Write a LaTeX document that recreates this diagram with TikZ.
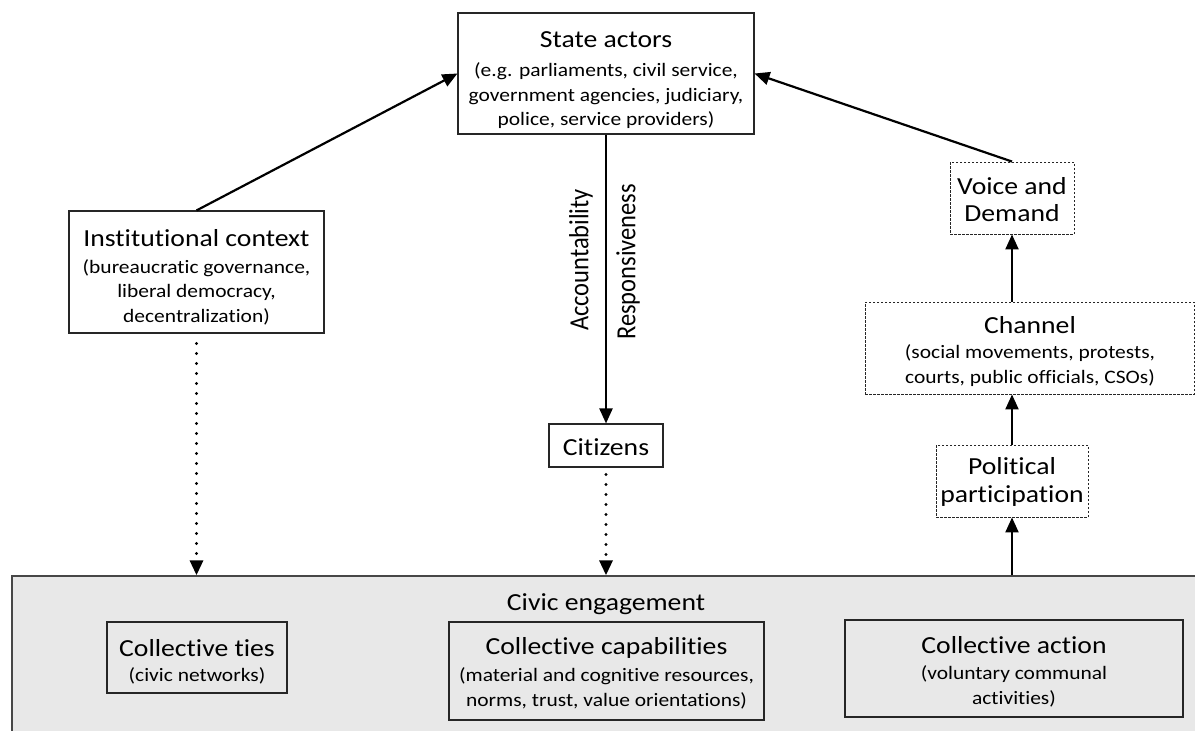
\documentclass[tikz,border=0pt]{standalone}
\usepackage{fontspec}
\setmainfont{Carlito}[FakeStretch=1.13, Ligatures=NoCommon]
\newfontfamily\plainfont{Carlito}[Ligatures=NoCommon]
\usetikzlibrary{arrows.meta}
\definecolor{civicgray}{HTML}{E8E8E8}
\definecolor{edge}{HTML}{262626}
\begin{document}
\begin{tikzpicture}[x=1pt,y=-1pt,
  box/.style={draw=edge, line width=1.1pt, inner sep=0pt},
  wbox/.style={box, fill=white},
  dbox/.style={draw=edge, line width=0.9pt, dash pattern=on 2.5pt off 1.5pt, fill=white, inner sep=0pt},
  arr/.style={line width=2.2pt, -{Triangle[length=15pt,width=13pt]}},
  darr/.style={line width=3.2pt, line cap=round, dash pattern=on 0pt off 10pt, -{Triangle[length=15pt,width=13pt]}},
  ttl/.style={font=\fontsize{24.5}{27.5}\selectfont, align=center, inner sep=0pt},
  sub/.style={font=\fontsize{19}{24.5}\selectfont, align=center, inner sep=0pt},
  lbl/.style={font=\plainfont\fontsize{24.5}{27}\selectfont, inner sep=0pt}]
\useasboundingbox (0,0) rectangle (1195,731);

% Civic engagement panel
\begin{scope}
  \clip (0,0) rectangle (1195,731);
  \node[box, draw=edge!85, line width=1.4pt, fill=civicgray, minimum width=1188pt, minimum height=164pt] (civic) at (606,658) {};
\end{scope}
\node[ttl] (civict) at (606,604) {Civic engagement};

\node[box, minimum width=180pt, minimum height=71pt] (ties) at (197,657.5) {};
\node[ttl] (tiest) at (197,648) {Collective ties};
\node[sub] (tiess) at (197,676) {(civic networks)};

\node[box, minimum width=315pt, minimum height=98pt] (cap) at (606.5,671) {};
\node[ttl] (capt) at (606.5,648) {Collective capabilities};
\node[sub] (caps) at (606.5,688.5) {(material and cognitive resources,\\norms, trust, value orientations)};

\node[box, minimum width=338pt, minimum height=97pt] (act) at (1014,668.5) {};
\node[ttl] (actt) at (1014,645) {Collective action};
\node[sub] (acts) at (1014,686.5) {(voluntary communal\\activities)};

% State actors
\node[wbox, minimum width=296pt, minimum height=121pt] (state) at (606,73.5) {};
\node[ttl] (statet) at (606,40) {State actors};
\node[sub] (states) at (606,96) {(e.g. parliaments, civil service,\\government agencies, judiciary,\\police, service providers)};

% Institutional context
\node[wbox, minimum width=255pt, minimum height=122pt] (inst) at (196.5,272) {};
\node[ttl] (instt) at (196.5,238) {Institutional context};
\node[sub] (insts) at (196.5,292) {(bureaucratic governance,\\liberal democracy,\\decentralization)};

% Citizens
\node[wbox, minimum width=114pt, minimum height=43pt] (cit) at (606,445.5) {};
\node[ttl] (citt) at (606,447) {Citizens};

% Right column
\node[dbox, minimum width=124pt, minimum height=72pt] (voice) at (1012,198) {};
\node[ttl] (voicet) at (1012,199.5) {Voice and\\Demand};

\node[dbox, minimum width=329pt, minimum height=92pt] (chan) at (1029.5,348) {};
\node[ttl] (chant) at (1030,325) {Channel};
\node[sub] (chans) at (1030,365.5) {(social movements, protests,\\courts, public officials, CSOs)};

\node[dbox, minimum width=152pt, minimum height=72pt] (pol) at (1012,481) {};
\node[ttl] (polt) at (1012,482) {Political\\participation};

% Vertical labels
\node[lbl, rotate=90] (acc) at (581,260) {\scalebox{1}[1.13]{Accountability}};
\node[lbl, rotate=90] (resp) at (628,262) {\scalebox{1}[1.13]{Responsiveness}};

% Connectors
\draw[arr] (inst.north) -- (state.west);
\draw[arr] (voice.north) -- (state.east);
\draw[arr] (state.south) -- (cit.north);
\draw[arr] (chan.north -| voice.south) -- (voice.south);
\draw[arr] (pol.north) -- (pol.north |- chan.south);
\draw[arr] (civic.north -| pol.south) -- (pol.south);
\draw[darr, shorten <=10pt] (inst.south) -- (inst.south |- civic.north);
\draw[darr, shorten <=7pt] (cit.south) -- (cit.south |- civic.north);
\end{tikzpicture}
\end{document}
